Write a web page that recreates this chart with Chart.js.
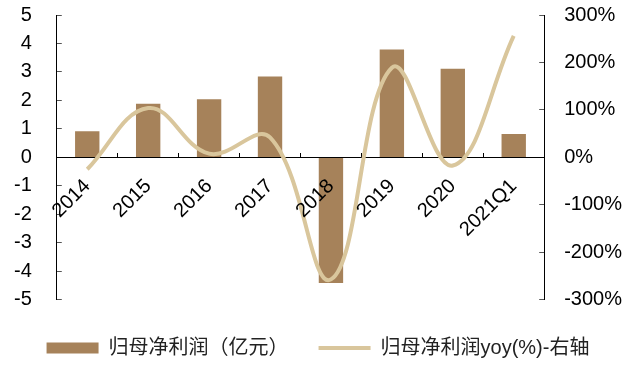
<!DOCTYPE html>
<html>
<head>
<meta charset="utf-8">
<script src="https://cdn.jsdelivr.net/npm/chart.js@4/dist/chart.umd.min.js"></script>
<style>
  html, body { margin: 0; padding: 0; background: #fff; }
  #wrap { width: 638px; height: 365px; }
</style>
</head>
<body>
<div id="wrap"><canvas id="c"></canvas></div>
<script>
// Categories and series
const categories = ['2014', '2015', '2016', '2017', '2018', '2019', '2020', '2021Q1'];
const netProfit = [0.92, 1.88, 2.04, 2.84, -4.41, 3.79, 3.11, 0.82];      // 亿元
const netProfitYoy = [-25, 104, 8, 42, -257, 189, -17, 256];             // %
const seriesNames = ['归母净利润（亿元）', '归母净利润yoy(%)-右轴'];
const leftTicks = { min: -5, max: 5, step: 1 };
const rightTicks = { min: -300, max: 300, step: 100 };

const BAR_COLOR = '#a6825a';
const LINE_COLOR = '#d9c69c';
const FONT = '"Liberation Sans", Arial, "Noto Sans CJK SC", sans-serif';

Chart.defaults.font.family = FONT;
Chart.defaults.color = '#000';

// keep rotated / end labels from pushing the plot area inwards
const noEdgePadding = scale => {
  scale.paddingLeft = 0;
  scale.paddingRight = 0;
  scale.paddingTop = 0;
  scale.paddingBottom = 0;
};
// value axes: only keep the label gap on the inner side of the labels
const valueAxisFit = scale => {
  noEdgePadding(scale);
  scale.width -= scale.options.ticks.padding;
};

new Chart(document.getElementById('c'), {
  data: {
    labels: categories,
    datasets: [
      {
        type: 'bar',
        label: seriesNames[0],
        data: netProfit,
        backgroundColor: BAR_COLOR,
        borderWidth: 0,
        yAxisID: 'y',
        categoryPercentage: 1,
        barPercentage: 0.4,
        order: 2
      },
      {
        type: 'line',
        label: seriesNames[1],
        data: netProfitYoy,
        borderColor: LINE_COLOR,
        backgroundColor: LINE_COLOR,
        borderWidth: 4,
        pointRadius: 0,
        tension: 0.4,
        yAxisID: 'y1',
        order: 1
      }
    ]
  },
  options: {
    responsive: true,
    maintainAspectRatio: false,
    animation: false,
    events: [],
    layout: { padding: { left: 14, right: 16, top: 15, bottom: -3 } },
    plugins: {
      tooltip: { enabled: false },
      legend: {
        position: 'bottom',
        title: { display: true, text: '', font: { size: 1 }, padding: { top: 0, bottom: 7 } },
        labels: {
          usePointStyle: true,
          pointStyleWidth: 52,
          boxHeight: 11,
          padding: 30,
          color: '#222',
          font: { size: 20 },
          sort: (a, b) => a.datasetIndex - b.datasetIndex,
          generateLabels(chart) {
            const items = Chart.defaults.plugins.legend.labels.generateLabels(chart);
            items.forEach(it => {
              const ds = chart.data.datasets[it.datasetIndex];
              if (ds.type === 'line') {
                it.pointStyle = 'line';
                it.strokeStyle = ds.borderColor;
                it.lineWidth = ds.borderWidth;
              } else {
                it.pointStyle = 'rect';
                it.fillStyle = ds.backgroundColor;
                it.lineWidth = 0;
              }
            });
            return items;
          }
        }
      }
    },
    scales: {
      x: {
        type: 'category',
        position: { y: 0 },
        offset: true,
        afterFit: noEdgePadding,
        grid: { offset: true, drawOnChartArea: false, tickLength: -5, color: '#000' },
        border: { display: true, color: '#000', width: 1 },
        ticks: {
          z: 1,
          autoSkip: false,
          minRotation: 45,
          maxRotation: 45,
          padding: 22,
          font: { size: 20 },
          color: '#000'
        }
      },
      y: {
        position: 'left',
        min: leftTicks.min,
        max: leftTicks.max,
        afterFit: valueAxisFit,
        grid: { drawOnChartArea: false, tickLength: -5, color: '#555' },
        border: { display: true, color: '#000', width: 1 },
        ticks: { stepSize: leftTicks.step, padding: 30, font: { size: 20 }, color: '#000' }
      },
      y1: {
        position: 'right',
        min: rightTicks.min,
        max: rightTicks.max,
        afterFit: valueAxisFit,
        grid: { drawOnChartArea: false, tickLength: -5, color: '#555' },
        border: { display: true, color: '#000', width: 1 },
        ticks: {
          stepSize: rightTicks.step,
          padding: 25,
          font: { size: 20 },
          color: '#000',
          callback: v => v + '%'
        }
      }
    }
  }
});
</script>
</body>
</html>
